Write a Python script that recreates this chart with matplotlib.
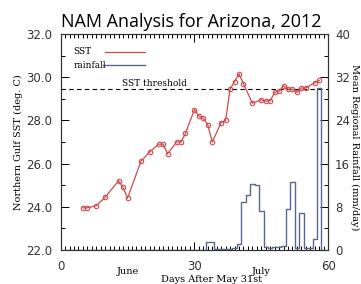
import matplotlib
matplotlib.use('Agg')
from matplotlib import pyplot as plt
from matplotlib.ticker import MultipleLocator, FixedLocator

# SST, northern gulf (deg C)
sst_day = [5, 6, 8, 10, 13, 14, 15, 18, 20, 22, 23, 24, 26, 27, 28, 30, 31, 32, 33, 34,
           36, 37, 38, 39, 40, 41, 43, 45, 46, 47, 48, 49, 50, 51, 52, 53, 54, 55, 57, 58]
sst = [23.95, 23.95, 24.05, 24.45, 25.2, 24.9, 24.4, 26.1, 26.55, 26.9, 26.9, 26.45, 27.0, 27.0,
       27.4, 28.5, 28.2, 28.1, 27.8, 27.0, 27.9, 28.0, 29.45, 29.8, 30.15, 29.7, 28.8, 28.95,
       28.9, 28.9, 29.3, 29.35, 29.6, 29.45, 29.45, 29.3, 29.5, 29.5, 29.75, 29.85]

# mean regional rainfall (mm/day)
rain_day = list(range(1, 60))
rain = [0.0] * 32 + [1.5, 1.5, 0.2, 0.2, 0.1, 0.2, 0.3,
                     1.1, 8.8, 10.2, 12.2, 12.0, 7.3,
                     0.5, 0.3, 0.5, 0.6, 0.8,
                     7.6, 12.5, 0.3, 6.8, 0.4, 0.3, 2.0, 30.0, 0.0]

threshold = 29.45
month_pos = [15, 45]
month_lab = ['June', 'July']

red = '#cf4a4a'
blue = '#5a6890'
serif = 'DejaVu Serif'

fig = plt.figure(figsize=(3.61, 2.84), dpi=100)
ax = fig.add_axes([0.168, 0.12, 0.741, 0.76])
ax2 = ax.twinx()

ax.plot(sst_day, sst, color=red, lw=0.9, marker='o', ms=3.2, mfc='none', mew=0.8, zorder=3)
ax.axhline(threshold, color='black', lw=0.8, ls=(0, (4, 3)))
ax.text(21, threshold + 0.05, 'SST threshold', ha='center', va='bottom',
        fontsize=6.5, family=serif)

ax2.step(rain_day, rain, where='mid', color=blue, lw=1.0)

ax.set_xlim(0, 60)
ax.set_ylim(22, 32)
ax2.set_ylim(0, 40)

ax.xaxis.set_major_locator(FixedLocator([0, 30, 60]))
ax.xaxis.set_minor_locator(MultipleLocator(1))
ax.yaxis.set_major_locator(MultipleLocator(2))
ax.yaxis.set_minor_locator(MultipleLocator(1))
ax.yaxis.set_major_formatter(matplotlib.ticker.FormatStrFormatter('%.1f'))
ax2.yaxis.set_major_locator(MultipleLocator(8))
ax2.yaxis.set_minor_locator(MultipleLocator(4))

ax.tick_params(which='both', direction='in', top=True, right=False, labelsize=8.5, width=0.7)
ax.tick_params(which='major', length=6)
ax.tick_params(which='minor', length=3)
ax.tick_params(axis='x', pad=7)
ax.tick_params(axis='y', pad=6)
ax2.tick_params(which='both', direction='in', labelsize=8.5, width=0.7, pad=5)
ax2.tick_params(which='major', length=6)
ax2.tick_params(which='minor', length=3)

for t in ax.get_xticklabels() + ax.get_yticklabels() + ax2.get_yticklabels():
    t.set_color('#333333')
for s in list(ax.spines.values()) + list(ax2.spines.values()):
    s.set_linewidth(0.8)
    s.set_color('#333333')

for p, lab in zip(month_pos, month_lab):
    ax.text(p, -0.08, lab, transform=ax.get_xaxis_transform(), ha='center', va='top',
            fontsize=7, family=serif)

# legend
ax.text(0.047, 0.917, 'SST', transform=ax.transAxes, ha='left', va='center',
        fontsize=6.5, family=serif)
ax.text(0.047, 0.856, 'rainfall', transform=ax.transAxes, ha='left', va='center',
        fontsize=6.5, family=serif)
ax.plot([0.165, 0.316], [0.917, 0.917], transform=ax.transAxes, color=red, lw=0.9)
ax.plot([0.16, 0.316], [0.856, 0.856], transform=ax.transAxes, color=blue, lw=1.0)

fig.text(0.53, 0.923, 'NAM Analysis for Arizona, 2012', ha='center', va='center',
         fontsize=13, family='Open Sans')
fig.text(0.05, 0.5, 'Northern Gulf SST (deg. C)', rotation=90, ha='center', va='center',
         fontsize=7, family=serif)
fig.text(0.983, 0.48, 'Mean Regional Rainfall (mm/day)', rotation=-90, ha='center',
         va='center', fontsize=7, family=serif)
fig.text(0.587, 0.015, 'Days After May 31st', ha='center', va='center',
         fontsize=7, family=serif)

fig.savefig('out.png', dpi=100)
